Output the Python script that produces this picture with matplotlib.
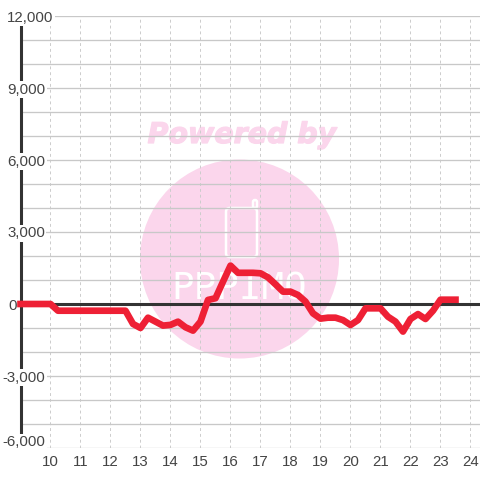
import matplotlib
matplotlib.use("Agg")
import matplotlib.pyplot as plt
import matplotlib.patheffects as pe
from matplotlib.patches import Circle, FancyBboxPatch

plt.rcParams["font.family"] = ["Liberation Sans", "DejaVu Sans"]

# hours, every 15 minutes from 9:00 to 23:30
hours = [9 + 0.25 * i for i in range(59)]
values = [
    0, 0, 0, 0, 0, -280, -280, -280, -280, -280, -280, -280, -280, -280, -280,
    -830, -1000, -570, -735, -900, -870, -735, -970, -1110, -735, 170, 240, 930,
    1600, 1300, 1300, 1300, 1280, 1110, 820, 515, 515, 375, 100, -390, -610,
    -570, -570, -670, -875, -670, -180, -180, -180, -530, -735, -1150, -625,
    -420, -625, -280, 180, 180, 180,
]

x_ticks = list(range(10, 25))
y_major = [-6000, -3000, 0, 3000, 6000, 9000, 12000]
y_minor = list(range(-6000, 13000, 1000))
y_labels = ["-6,000", "-3,000", "0", "3,000", "6,000", "9,000", "12,000"]

TEXT = "#444444"
PINK = "#fbd6ec"
W = 480.0

fig = plt.figure(figsize=(4.8, 4.8), dpi=100)
fig.patch.set_facecolor("white")
ax = fig.add_axes([20.5 / W, (W - 448) / W, (W - 20.5) / W, 432 / W])
ax.patch.set_alpha(0)
ax.set_xlim(9, 24.317)
ax.set_ylim(-6000, 12000)


def fx(px):
    return px / W


def fy(py):
    return 1 - py / W


# watermark behind the axes
fig.add_artist(Circle((fx(239.5), fy(259)), 99.5 / W, transform=fig.transFigure,
                      fc=PINK, ec="none", zorder=-2))
fig.text(fx(242), fy(135), "Powered by", color=PINK, fontsize=20.5, style="italic",
         weight="bold", ha="center", va="center", zorder=-2, family="DejaVu Sans",
         path_effects=[pe.withStroke(linewidth=0.9, foreground=PINK)])
fig.add_artist(FancyBboxPatch((fx(226), fy(257)), 31 / W, 49 / W,
                              boxstyle="round,pad=0,rounding_size=0.008",
                              transform=fig.transFigure, fc="none", ec="white", lw=1.8, zorder=-1))
fig.add_artist(FancyBboxPatch((fx(253), fy(208)), 4 / W, 8 / W,
                              boxstyle="round,pad=0,rounding_size=0.004",
                              transform=fig.transFigure, fc=PINK, ec="white", lw=1.8, zorder=-1))
fig.text(fx(239), fy(290), "PPPIMO", color="white", fontsize=27, ha="center", va="center",
         family="DejaVu Sans Mono", zorder=-1)

ax.set_axisbelow(True)
ax.set_xticks(x_ticks)
ax.set_yticks(y_minor)
ax.set_yticklabels([])
ax.grid(True, axis="y", color="#c8c8c8", lw=0.95)
ax.grid(True, axis="x", color="#cccccc", lw=0.7, dashes=(3, 3))
ax.tick_params(axis="both", which="both", length=0)
ax.tick_params(axis="x", labelsize=10.8, labelcolor=TEXT, pad=5)

for s in ["top", "right", "bottom"]:
    ax.spines[s].set_visible(False)
ax.spines["left"].set_color("#333333")
ax.spines["left"].set_linewidth(2.2)
ax.spines["left"].set_zorder(1.5)

ax.axhline(0, color="#333333", lw=2.2, zorder=1.6)

for v, lab in zip(y_major, y_labels):
    dx = -18 if v < 0 else (-12.5 if v == 0 else -13.5)
    # lowest label is pushed up so it stays inside the plot
    dy = 5.5 if v == y_major[0] else -1.5
    ax.annotate(lab, xy=(0, v), xycoords=ax.get_yaxis_transform(), xytext=(dx, dy),
                textcoords="offset pixels", ha="left", va="center", fontsize=10.8,
                color=TEXT, annotation_clip=False, zorder=1.7,
                bbox=dict(boxstyle="square,pad=0.1", fc="white", ec="none"))

ax.plot(hours, values, color="#ee2035", lw=4.8, solid_capstyle="projecting",
        solid_joinstyle="round", zorder=3, clip_on=False)

fig.savefig("out.png", dpi=100)
